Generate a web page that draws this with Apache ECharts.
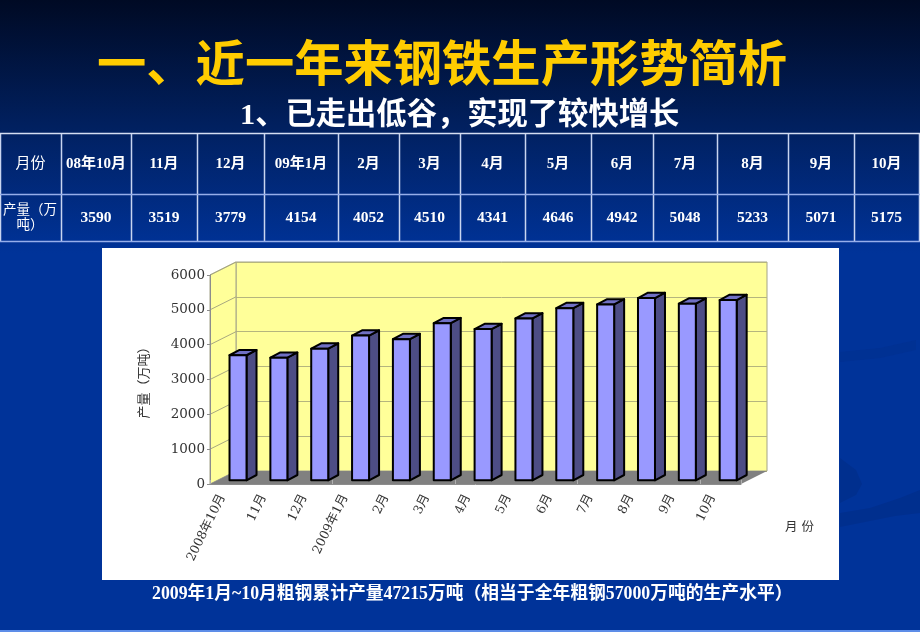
<!DOCTYPE html>
<html><head><meta charset="utf-8">
<style>html,body{margin:0;padding:0;background:#003399}#c{width:920px;height:632px}</style>
<script src="https://cdn.jsdelivr.net/npm/echarts@6/dist/echarts.min.js"></script>
</head><body><div id="c"></div>
<script>
const tableHeaders = ['月份','08年10月','11月','12月','09年1月','2月','3月','4月','5月','6月','7月','8月','9月','10月'];
const rowLabel = '产量\uFF08万\n吨\uFF09';
const categories = ['2008年10月','11月','12月','2009年1月','2月','3月','4月','5月','6月','7月','8月','9月','10月'];
const output = [3590,3519,3779,4154,4052,4510,4341,4646,4942,5048,5233,5071,5175];
const yTicks = [0,1000,2000,3000,4000,5000,6000];
const titleText = '一、近一年来钢铁生产形势简析';
const subtitleText = '1、已走出低谷\uFF0C实现了较快增长';
const footerText = '2009年1月~10月粗钢累计产量47215万吨\uFF08相当于全年粗钢57000万吨的生产水平\uFF09';
const yName = '产量\uFF08万吨\uFF09';
const xName = '月 份';

const colEdges = [0,61,131,197,264,338,399,460,525,591,653,717,788,854,919];
const rowEdges = [133,194,241];
const DEPTH = [26,-13];
const serif = '"Liberation Serif","Noto Sans CJK SC",serif';
const axisFont = '"DejaVu Serif","Noto Sans CJK SC",serif';

const g = [];
g.push({type:'rect',z:-5,shape:{x:0,y:0,width:920,height:632},style:{fill:{type:'linear',x:0,y:0,x2:0,y2:1,colorStops:[
  {offset:0,color:'#000a24'},{offset:0.2,color:'#01205f'},{offset:0.4,color:'#003399'},{offset:1,color:'#003399'}]}}});
g.push({type:'polygon',z:-4,shape:{points:[[840,352],[880,348],[916,340],[916,350],[880,358],[840,362]]},style:{fill:'#003193'}});
g.push({type:'polygon',z:-4,shape:{points:[[840,458],[856,470],[862,484],[856,495],[840,503]]},style:{fill:'#002f8e'}});
g.push({type:'polygon',z:-4,shape:{points:[[840,513],[870,508],[900,498],[920,490],[920,513],[895,516],[865,522],[840,527]]},style:{fill:'#002f8e'}});
g.push({type:'rect',z:-4,shape:{x:0,y:630,width:920,height:2},style:{fill:'#5d8de8'}});
g.push({type:'rect',z:-4,shape:{x:102,y:248,width:737,height:332},style:{fill:'#ffffff'}});
colEdges.forEach(x=>g.push({type:'line',z:-3,shape:{x1:x+0.5,y1:rowEdges[0],x2:x+0.5,y2:rowEdges[2]},style:{stroke:'#c9d5f0',lineWidth:1.5}}));
rowEdges.forEach((y,i)=>g.push({type:'line',z:-3,shape:{x1:0,y1:y+0.5,x2:920,y2:y+0.5},style:{stroke:i===0?'#d5def2':'#96aeea',lineWidth:1.5}}));
tableHeaders.forEach((t,i)=>g.push({type:'text',z:-2,style:{x:(colEdges[i]+colEdges[i+1])/2,y:164.5,text:t,align:'center',verticalAlign:'middle',fill:'#fff',
  font:(i===0?'normal':'bold')+' 15px '+serif}}));
g.push({type:'text',z:-2,style:{x:30,y:218,text:rowLabel,align:'center',verticalAlign:'middle',fill:'#fff',lineHeight:15,font:'normal 13.5px '+serif}});
output.forEach((v,i)=>g.push({type:'text',z:-2,style:{x:(colEdges[i+1]+colEdges[i+2])/2,y:218,text:String(v),align:'center',verticalAlign:'middle',fill:'#fff',font:'bold 15.5px '+serif}}));
g.push({type:'text',z:-2,style:{x:785,y:528,text:xName,align:'left',verticalAlign:'middle',fill:'#333',font:'12.5px '+axisFont}});

function renderWalls(params, api){
  const v = api.value(0), cs = params.coordSys, p = api.coord([0,v]);
  const left = cs.x, kids = [];
  if(params.dataIndex===0){
    kids.push({type:'polygon',shape:{points:[[left,cs.y],[left+DEPTH[0],cs.y+DEPTH[1]],[left+DEPTH[0],cs.y+cs.height+DEPTH[1]],[left,cs.y+cs.height]]},
      style:{fill:'#ffff99',stroke:'#a3a388',lineWidth:1}});
    kids.push({type:'polygon',shape:{points:[[left,cs.y+cs.height],[left+cs.width,cs.y+cs.height],[left+cs.width+DEPTH[0],cs.y+cs.height+DEPTH[1]],[left+DEPTH[0],cs.y+cs.height+DEPTH[1]]]},
      style:{fill:'#808080'}});
  } else {
    kids.push({type:'line',shape:{x1:left,y1:p[1],x2:left+DEPTH[0],y2:p[1]+DEPTH[1]},style:{stroke:'#a8a880',lineWidth:1}});
  }
  return {type:'group',children:kids};
}
function renderBar(params, api){
  const top = api.coord([api.value(0),api.value(1)]), base = api.coord([api.value(0),0]);
  const cx = top[0]+7.6, w = 17, dy=-3.7, sx=10, sy=-5.3;
  const l = cx-w/2, r = cx+w/2, t = top[1]+dy, b = base[1]+dy;
  const line = {stroke:'#000',lineWidth:2,lineJoin:'round'};
  return {type:'group',children:[
    {type:'polygon',shape:{points:[[r,t],[r+sx,t+sy],[r+sx,b+sy],[r,b]]},style:{fill:'#4d4d85',...line}},
    {type:'polygon',shape:{points:[[l,t],[l+sx,t+sy],[r+sx,t+sy],[r,t]]},style:{fill:'#7070c4',...line}},
    {type:'rect',shape:{x:l,y:t,width:w,height:b-t},style:{fill:'#9999ff',...line}}
  ]};
}

const option = {
  animation:false,
  title:[
    {text:titleText,left:92,top:33,textStyle:{color:'#ffcc00',fontSize:49.3,fontWeight:'bold',fontFamily:'"Noto Sans CJK SC"',textShadowColor:'#3a2a00',textShadowBlur:0,textShadowOffsetX:2,textShadowOffsetY:2}},
    {text:subtitleText,left:235,top:96,textStyle:{color:'#fff',fontSize:30.3,fontWeight:'bold',fontFamily:serif}},
    {text:footerText,left:147,top:581,textStyle:{color:'#fff',fontSize:17.8,fontWeight:'bold',fontFamily:serif}}
  ],
  graphic:{z:-1,elements:g},
  grid:[
    {left:210,top:275,width:531,height:209},
    {left:236,top:262,width:531,height:209,show:true,backgroundColor:'#ffff99',borderColor:'#a3a388',borderWidth:1,z:0},
    {left:202,top:275,width:531,height:209}
  ],
  xAxis:[
    {gridIndex:0,type:'category',data:categories,z:2,
     axisLine:{lineStyle:{color:'#8c8c8c',width:1}},axisTick:{show:true,inside:true,length:4,lineStyle:{color:'#b0b0b0'}},
     axisLabel:{show:false}},
    {gridIndex:1,type:'category',data:categories,show:false},
    {gridIndex:2,type:'category',data:categories,z:2,axisLine:{show:false},axisTick:{show:false},
     axisLabel:{rotate:64,interval:0,margin:11,color:'#333',fontSize:12.5,fontFamily:axisFont}}
  ],
  yAxis:[
    {gridIndex:0,type:'value',min:0,max:6000,interval:1000,z:2,name:yName,nameLocation:'middle',nameGap:59,nameRotate:90,
     nameTextStyle:{color:'#333',fontSize:13,fontFamily:axisFont},
     axisLine:{show:true,lineStyle:{color:'#8c8c8c'}},axisTick:{show:true,length:3,lineStyle:{color:'#8c8c8c'}},
     axisLabel:{color:'#333',fontSize:13.5,margin:5,fontFamily:axisFont,formatter:v=>String(v)},splitLine:{show:false}},
    {gridIndex:1,type:'value',min:0,max:6000,interval:1000,z:0,axisLine:{show:false},axisTick:{show:false},axisLabel:{show:false},
     splitLine:{show:true,lineStyle:{color:'#b5b57e',width:1}}},
    {gridIndex:2,type:'value',min:0,max:6000,show:false}
  ],
  series:[
    {type:'custom',xAxisIndex:0,yAxisIndex:0,z:1,silent:true,clip:false,data:yTicks.map(v=>[v]),encode:{y:0},renderItem:renderWalls},
    {type:'custom',xAxisIndex:0,yAxisIndex:0,z:3,clip:false,data:output.map((v,i)=>[i,v]),encode:{x:0,y:1},renderItem:renderBar}
  ]
};
echarts.init(document.getElementById('c')).setOption(option);
</script></body></html>
